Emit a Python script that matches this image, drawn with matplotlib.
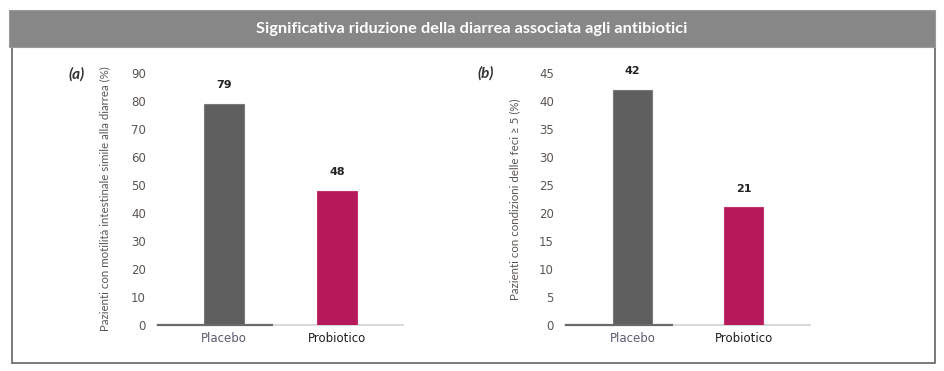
import matplotlib
matplotlib.use("Agg")
import matplotlib.pyplot as plt
from matplotlib.patches import Rectangle

W, H = 944, 371
DPI = 100

title = "Significativa riduzione della diarrea associata agli antibiotici"
categories = ["Placebo", "Probiotico"]
values_a = [79, 48]
values_b = [42, 21]
ylabel_a = "Pazienti con motilità intestinale simile alla diarrea (%)"
ylabel_b = "Pazienti con condizioni delle feci ≥ 5 (%)"
ticks_a = [0, 10, 20, 30, 40, 50, 60, 70, 80, 90]
ticks_b = [0, 5, 10, 15, 20, 25, 30, 35, 40, 45]
panel_labels = ["(a)", "(b)"]

bar_colors = ["#5f5f5f", "#b5195a"]
edge_colors = ["#7a7a7a", "#c0336c"]
xlabel_colors = ["#5c5a6e", "#1e1e1e"]

fig = plt.figure(figsize=(W / DPI, H / DPI), dpi=DPI)

def px(x0, y0, x1, y1):
    # pixel box (top-left origin) -> figure fraction rect
    return [x0 / W, 1 - y1 / H, (x1 - x0) / W, (y1 - y0) / H]

# outer frame
fig.patches.append(Rectangle((12 / W, 1 - 363 / H), (935 - 12) / W, (363 - 47) / H,
                             transform=fig.transFigure, facecolor="none",
                             edgecolor="#6e6e6e", linewidth=1.3, zorder=-2))
# header bar
fig.patches.append(Rectangle((9 / W, 1 - 47 / H), (935 - 9) / W, (47 - 10) / H,
                             transform=fig.transFigure, facecolor="#878787",
                             edgecolor="#9a9a9a", linewidth=0.8, zorder=-1))
fig.text(472 / W, 1 - 28.5 / H, title, ha="center", va="center", color="white",
         fontsize=11.8, fontweight="bold", family=["Lato", "DejaVu Sans"])

panels = [
    dict(box=(157, 73, 403, 325), xlim=(-0.593, 1.584), vals=values_a, ticks=ticks_a,
         ymax=90, ylabel=ylabel_a, ylab_x=105, lab=panel_labels[0], lab_x=77, lab_y=74,
         dark_frac=0.47),
    dict(box=(565, 73, 810, 325), xlim=(-0.608, 1.599), vals=values_b, ticks=ticks_b,
         ymax=45, ylabel=ylabel_b, ylab_x=515, lab=panel_labels[1], lab_x=486, lab_y=73,
         dark_frac=0.44),
]

for p in panels:
    x0, y0, x1, y1 = p["box"]
    ax = fig.add_axes(px(x0, y0, x1, y1))
    ax.set_facecolor("none")
    xs = list(range(len(categories)))
    ax.bar(xs, p["vals"], width=0.352, color=bar_colors, edgecolor=edge_colors,
           linewidth=0.8, zorder=3)
    for x, v in zip(xs, p["vals"]):
        ax.annotate(str(v), (x, v), xytext=(0, 13.5), textcoords="offset points",
                    ha="center", va="center", fontsize=8, fontweight="bold",
                    color="#222222", family=["DejaVu Sans"])
    ax.set_xlim(*p["xlim"])
    ax.set_ylim(0, p["ymax"])
    ax.set_yticks(p["ticks"])
    ax.set_yticklabels([str(t) for t in p["ticks"]], fontsize=8.5, color="#5a5652")
    ax.set_xticks(xs)
    ax.set_xticklabels(categories, fontsize=8.5)
    for lbl, c in zip(ax.get_xticklabels(), xlabel_colors):
        lbl.set_color(c)
    ax.tick_params(axis="both", length=0)
    ax.tick_params(axis="y", pad=8)
    ax.tick_params(axis="x", pad=5)
    for s in ["top", "right", "left"]:
        ax.spines[s].set_visible(False)
    ax.spines["bottom"].set_color("#d6d6d6")
    ax.spines["bottom"].set_linewidth(1.3)
    ax.plot([0, p["dark_frac"]], [0, 0], transform=ax.transAxes, color="#6a6a6a",
            linewidth=1.6, clip_on=False, zorder=4, solid_capstyle="butt")
    fig.text(p["ylab_x"] / W, 1 - (y0 + y1) / 2 / H, p["ylabel"], rotation=90,
             ha="center", va="center", fontsize=8.3, color="#5a5652",
             family=["Lato", "DejaVu Sans"])
    fig.text(p["lab_x"] / W, 1 - p["lab_y"] / H, p["lab"], ha="center", va="center",
             fontsize=11, fontweight="bold", fontstyle="italic", color="#333333",
             family=["Lato", "DejaVu Sans"])

fig.savefig("out.png", dpi=DPI)
